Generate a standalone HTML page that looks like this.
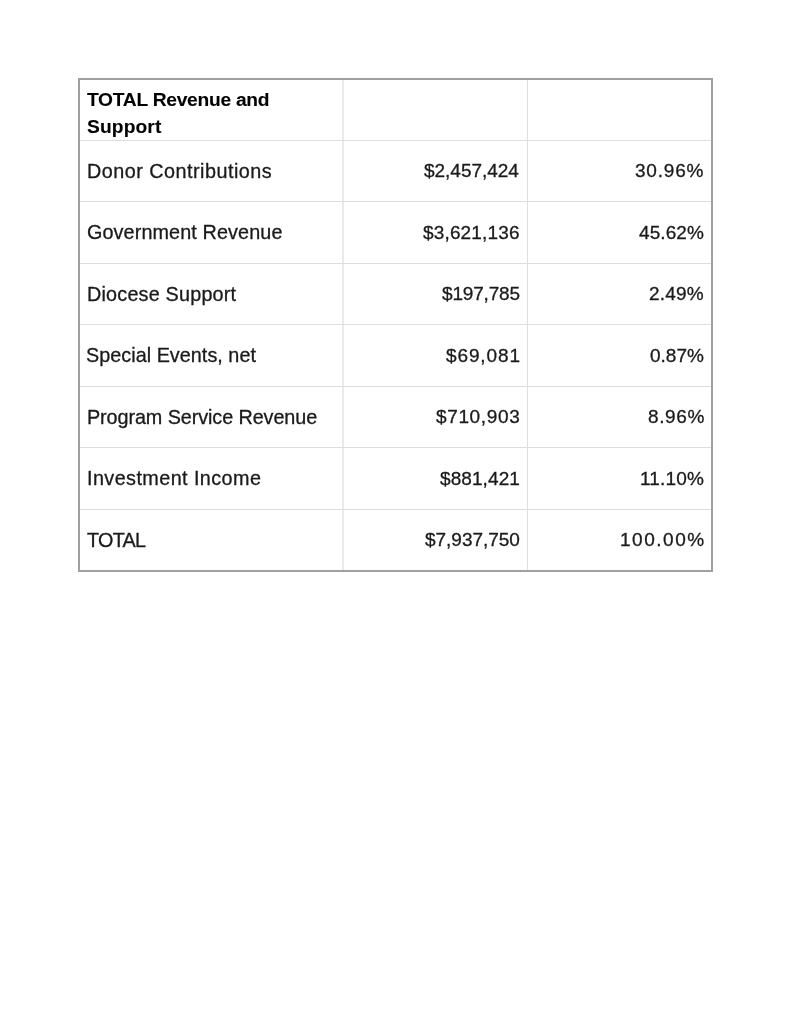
<!DOCTYPE html>
<html><head><meta charset="utf-8">
<style>
html,body{margin:0;padding:0;background:#fff;}
body{-webkit-font-smoothing:antialiased;width:791px;height:1024px;position:relative;overflow:hidden;font-family:"Liberation Sans",sans-serif;color:#1a1a1a;}
.line{position:absolute;}
.o{background:#a0a0a0;}
.i{background:#dedede;}
.iv{background:#eaeaea;}
.t{position:absolute;will-change:transform;-webkit-text-stroke:0.3px #1a1a1a;font-size:19.0px;white-space:nowrap;line-height:1;}
.ta{font-size:19.8px;}
.b{font-weight:bold;color:#000;-webkit-text-stroke:0.1px #000;font-size:19.2px;}
</style></head><body>
<div class="line iv" style="left:342px;top:79px;width:2px;height:491.60px"></div>
<div class="line i" style="left:527px;top:79px;width:1px;height:491.60px"></div>
<div class="line i" style="left:79px;top:140px;width:633px;height:1px"></div>
<div class="line i" style="left:79px;top:201px;width:633px;height:1px"></div>
<div class="line i" style="left:79px;top:263px;width:633px;height:1px"></div>
<div class="line i" style="left:79px;top:324px;width:633px;height:1px"></div>
<div class="line i" style="left:79px;top:386px;width:633px;height:1px"></div>
<div class="line i" style="left:79px;top:447px;width:633px;height:1px"></div>
<div class="line i" style="left:79px;top:509px;width:633px;height:1px"></div>
<div class="line o" style="left:78px;top:78px;width:635px;height:2px"></div>
<div class="line o" style="left:78px;top:570px;width:635px;height:2px"></div>
<div class="line o" style="left:78px;top:78px;width:2px;height:494px"></div>
<div class="line o" style="left:711px;top:78px;width:2px;height:494px"></div>
<div class="t b" id="h1" style="left:86.64px;top:90.30px;letter-spacing:-0.252px">TOTAL Revenue and</div>
<div class="t b" id="h2" style="left:86.74px;top:116.70px;letter-spacing:0.129px">Support</div>
<div class="t ta" id="a0" style="left:86.81px;top:161.87px;letter-spacing:0.488px">Donor Contributions</div>
<div class="t " id="b0" style="right:271.80px;top:161.27px;letter-spacing:-0.025px">$2,457,424</div>
<div class="t " id="c0" style="right:86.39px;top:161.27px;letter-spacing:0.795px">30.96%</div>
<div class="t ta" id="a1" style="left:87.00px;top:223.32px;letter-spacing:0.109px">Government Revenue</div>
<div class="t " id="b1" style="right:271.44px;top:222.72px;letter-spacing:0.155px">$3,621,136</div>
<div class="t " id="c1" style="right:87.10px;top:222.72px;letter-spacing:0.087px">45.62%</div>
<div class="t ta" id="a2" style="left:87.41px;top:284.78px;letter-spacing:0.204px">Diocese Support</div>
<div class="t " id="b2" style="right:271.52px;top:284.18px;letter-spacing:-0.170px">$197,785</div>
<div class="t " id="c2" style="right:86.73px;top:284.18px;letter-spacing:0.182px">2.49%</div>
<div class="t ta" id="a3" style="left:86.47px;top:346.23px;letter-spacing:0.033px">Special Events, net</div>
<div class="t " id="b3" style="right:269.91px;top:345.63px;letter-spacing:0.879px">$69,081</div>
<div class="t " id="c3" style="right:86.92px;top:345.63px;letter-spacing:-0.002px">0.87%</div>
<div class="t ta" id="a4" style="left:87.41px;top:407.68px;letter-spacing:-0.084px">Program Service Revenue</div>
<div class="t " id="b4" style="right:271.05px;top:407.08px;letter-spacing:0.638px">$710,903</div>
<div class="t " id="c4" style="right:86.03px;top:407.08px;letter-spacing:0.610px">8.96%</div>
<div class="t ta" id="a5" style="left:86.60px;top:469.13px;letter-spacing:0.425px">Investment Income</div>
<div class="t " id="b5" style="right:271.38px;top:468.53px;letter-spacing:0.089px">$881,421</div>
<div class="t " id="c5" style="right:86.96px;top:468.53px;letter-spacing:0.189px">11.10%</div>
<div class="t ta" id="a6" style="left:87.22px;top:530.58px;letter-spacing:-0.704px">TOTAL</div>
<div class="t " id="b6" style="right:270.86px;top:529.98px;letter-spacing:-0.024px">$7,937,750</div>
<div class="t " id="c6" style="right:85.61px;top:529.98px;letter-spacing:1.519px">100.00%</div>
</body></html>
